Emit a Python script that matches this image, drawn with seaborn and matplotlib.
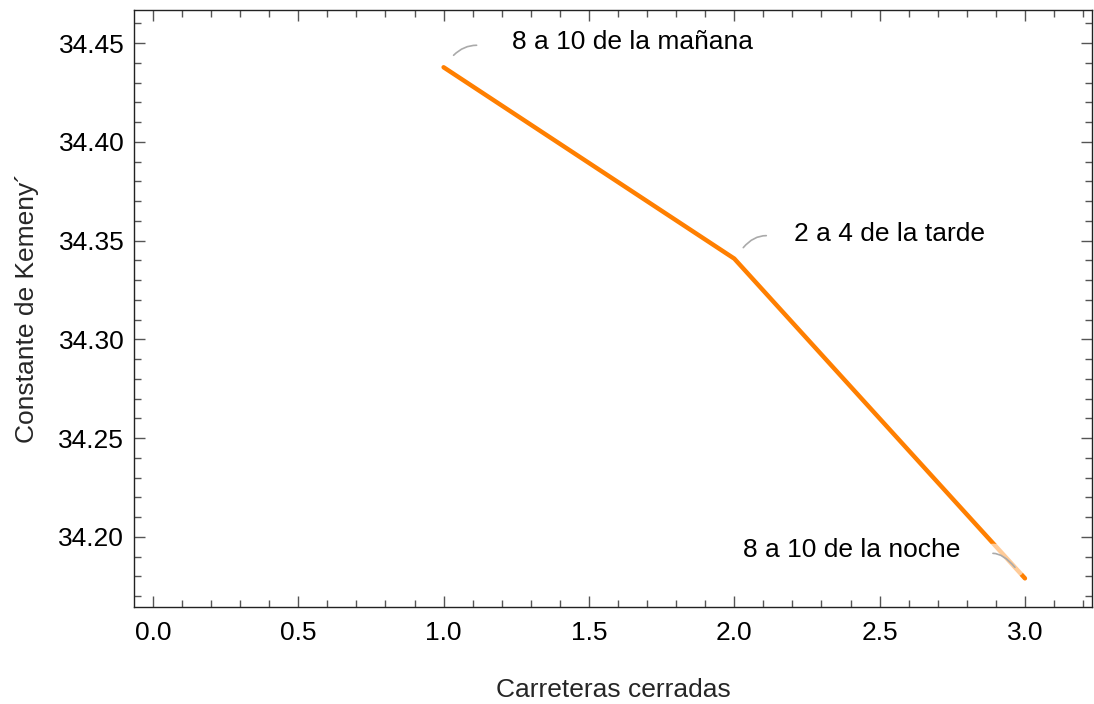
import matplotlib
matplotlib.use("Agg")
import matplotlib.pyplot as plt
import matplotlib.patheffects as pe
from matplotlib.transforms import offset_copy
from matplotlib.ticker import MultipleLocator
import seaborn as sns
import pandas as pd

# ---- data ----
carreteras = [1, 2, 3]
kemeny = [34.4378, 34.3409, 34.1790]
etiquetas = ["8 a 10 de la mañana", "2 a 4 de la tarde", "8 a 10 de la noche"]

sns.set_theme(style="ticks")
plt.rcParams['font.family'] = ['Liberation Sans', 'DejaVu Sans']

fig = plt.figure(figsize=(10.94, 7.04), dpi=100)
ax = fig.add_axes([0.1225, 0.1378, 0.8755, 0.848])

df = pd.DataFrame({"x": carreteras, "y": kemeny})
sns.lineplot(data=df, x="x", y="y", ax=ax, color="#FF7F00", linewidth=3.2)

ax.set_xlim(-0.065, 3.23)
ax.set_ylim(34.1645, 34.4668)
ax.xaxis.set_major_locator(MultipleLocator(0.5))
ax.xaxis.set_minor_locator(MultipleLocator(0.1))
ax.yaxis.set_major_locator(MultipleLocator(0.05))
ax.yaxis.set_minor_locator(MultipleLocator(0.01))
ax.xaxis.set_major_formatter(matplotlib.ticker.FormatStrFormatter('%.1f'))
ax.yaxis.set_major_formatter(matplotlib.ticker.FormatStrFormatter('%.2f'))

ax.tick_params(which='both', direction='in', top=True, right=True,
               color='#555555', labelsize=19, labelcolor='black', width=1)
ax.tick_params(which='major', length=8)
ax.tick_params(axis='x', which='major', pad=10)
ax.tick_params(axis='y', which='major', pad=7)
ax.tick_params(which='minor', length=5)
for s in ax.spines.values():
    s.set_color('#222222')
    s.set_linewidth(1)

ax.set_xlabel("Carreteras cerradas", fontsize=19, labelpad=24)
ax.set_ylabel("Constante de Kemeny\u00b4", fontsize=19, labelpad=14)

# annotations: (leader start offset, leader end offset rel. to start, angleB, text offset, ha, halo)
specs = [
    ((10, 12), (23, 10), 45, (68, 25), 'left', False),
    ((9, 11), (23, 12), 50, (60, 25), 'left', False),
    ((-10, 11), (-22, 14), 130, (-65, 28), 'right', True),
]
for (xv, yv, lab, sp) in zip(carreteras, kemeny, etiquetas, specs):
    st, en, angB, toff, ha, halo = sp
    tr = offset_copy(ax.transData, fig=fig, x=st[0], y=st[1], units='dots')
    a = ax.annotate('', xy=(xv, yv), xycoords=tr, xytext=en, textcoords='offset pixels',
                    arrowprops=dict(arrowstyle='-', color='#AAAAAA', lw=1.2,
                                    shrinkA=0, shrinkB=0,
                                    connectionstyle=f"angle3,angleA=0,angleB={angB}"))
    if halo:
        a.arrow_patch.set_path_effects([pe.withStroke(linewidth=14, foreground='white', alpha=0.6)])
    ax.annotate(lab, xy=(xv, yv), xycoords='data', xytext=toff, textcoords='offset pixels',
                ha=ha, va='center', fontsize=19, color='black')

fig.savefig("out.png", dpi=100)
